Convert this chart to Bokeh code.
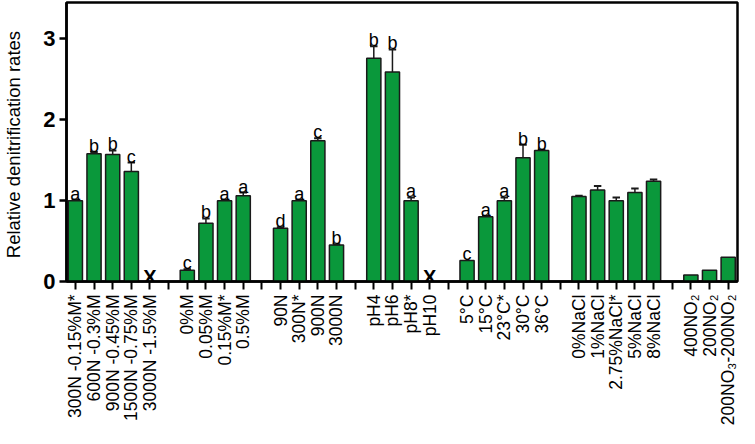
import math
from bokeh.plotting import figure
from bokeh.models import FixedTicker
from bokeh.core.properties import value
from bokeh.embed import file_html
from bokeh.resources import INLINE

# ---- data -------------------------------------------------------------
group_sizes = [5, 4, 4, 4, 5, 5, 3]
categories = ["300N -0.15%M*", "600N -0.3%M", "900N -0.45%M", "1500N -0.75%M", "3000N -1.5%M",
              "0%M", "0.05%M", "0.15%M*", "0.5%M",
              "90N", "300N*", "900N", "3000N",
              "pH4", "pH6", "pH8*", "pH10",
              "5°C", "15°C", "23°C*", "30°C", "36°C",
              "0%NaCl", "1%NaCl", "2.75%NaCl*", "5%NaCl", "8%NaCl",
              "400NO₂", "200NO₂", "200NO₃-200NO₂"]
values = [1.00, 1.58, 1.57, 1.36, None,
          0.14, 0.72, 1.00, 1.06,
          0.66, 1.00, 1.74, 0.45,
          2.76, 2.59, 1.00, None,
          0.26, 0.80, 1.00, 1.53, 1.62,
          1.05, 1.13, 1.00, 1.10, 1.24,
          0.08, 0.14, 0.30]
errors = [0.01, 0.02, 0.05, 0.11, None,
          0.01, 0.06, 0.01, 0.04,
          0.01, 0.01, 0.03, 0.01,
          0.15, 0.28, 0.04, None,
          0.00, 0.01, 0.04, 0.16, 0.01,
          0.01, 0.05, 0.04, 0.05, 0.02,
          0.00, 0.00, 0.00]
letters = ["a", "b", "b", "c", "",
           "c", "b", "a", "a",
           "d", "a", "c", "b",
           "b", "b", "a", "",
           "c", "a", "a", "b", "b",
           "", "", "", "", "",
           "", "", ""]
y_ticks = [0, 1, 2, 3]
y_title = "Relative  denitrification rates"

# ---- positions (one empty slot between groups) -------------------------
xs = []
pos = 0
for g in group_sizes:
    for i in range(g):
        xs.append(pos)
        pos += 1
    pos += 1
n_slots = xs[-1] + 1

bar_x = [x for x, v in zip(xs, values) if v is not None]
bar_top = [v for v in values if v is not None]
miss_x = [x for x, v in zip(xs, values) if v is None]
err_x = [x for x, v, e in zip(xs, values, errors) if v is not None and e > 0]
err_lo = [v for v, e in zip(values, errors) if v is not None and e > 0]
err_hi = [v + e for v, e in zip(values, errors) if v is not None and e > 0]
let_x = [x for x, l in zip(xs, letters) if l]
let_y = [v + e for v, e, l in zip(values, errors, letters) if l]
let_t = [l for l in letters if l]

FONT = "Liberation Sans"
GREEN = "#0A983B"

p = figure(width=739, height=428, output_backend="svg", toolbar_location=None,
           x_range=(-0.476, 35.5), y_range=(0, 3.45),
           min_border_left=57, min_border_right=2, min_border_top=2, min_border_bottom=0)
p.grid.visible = False
p.outline_line_color = "black"
p.outline_line_width = 2.5
p.background_fill_color = "white"
p.border_fill_color = "white"

p.vbar(x=bar_x, top=bar_top, bottom=0, width=0.76, fill_color=GREEN,
       line_color="#1a1a1a", line_width=1.5)
p.segment(x0=err_x, y0=err_lo, x1=err_x, y1=err_hi, line_color="#1a1a1a", line_width=1.5)
p.segment(x0=[x - 0.2 for x in err_x], y0=err_hi, x1=[x + 0.2 for x in err_x], y1=err_hi,
          line_color="#1a1a1a", line_width=2)

# significance letters (negative y_offset lifts them above the error caps)
p.text(x=let_x, y=let_y, text=let_t, y_offset=-6, text_align="center",
       text_baseline="alphabetic", text_font=value(FONT), text_font_size="18px",
       text_color="black")
p.text(x=miss_x, y=[0] * len(miss_x), text=["X"] * len(miss_x), y_offset=-5,
       text_align="center", text_baseline="alphabetic", text_font=value(FONT),
       text_font_size="20px", text_font_style="bold", text_color="black")

# x axis
xa = p.xaxis[0]
xa.ticker = FixedTicker(ticks=list(range(n_slots)))
overrides = {i: "" for i in range(n_slots)}
for x, c in zip(xs, categories):
    overrides[x] = c
xa.major_label_overrides = overrides
xa.major_label_orientation = math.pi / 2
xa.major_label_text_font = FONT
xa.major_label_text_font_size = "17.5px"
xa.major_label_text_color = "black"
xa.major_label_standoff = 5
xa.axis_line_width = 2.5
xa.axis_line_color = "black"
xa.major_tick_line_width = 2
xa.major_tick_line_color = "black"
xa.major_tick_out = 8
xa.major_tick_in = 0
xa.minor_tick_line_color = None

# y axis
ya = p.yaxis[0]
ya.ticker = FixedTicker(ticks=y_ticks)
ya.major_label_text_font = FONT
ya.major_label_text_font_size = "22px"
ya.major_label_text_font_style = "bold"
ya.major_label_text_color = "black"
ya.major_label_standoff = 4
ya.axis_line_width = 2.5
ya.axis_line_color = "black"
ya.major_tick_line_width = 2.5
ya.major_tick_line_color = "black"
ya.major_tick_out = 7
ya.major_tick_in = 0
ya.minor_tick_line_color = None
ya.axis_label = y_title
ya.axis_label_text_font = FONT
ya.axis_label_text_font_size = "18.5px"
ya.axis_label_text_font_style = "normal"
ya.axis_label_text_color = "black"
ya.axis_label_standoff = 16

open("out.html", "w").write(file_html(p, INLINE))
